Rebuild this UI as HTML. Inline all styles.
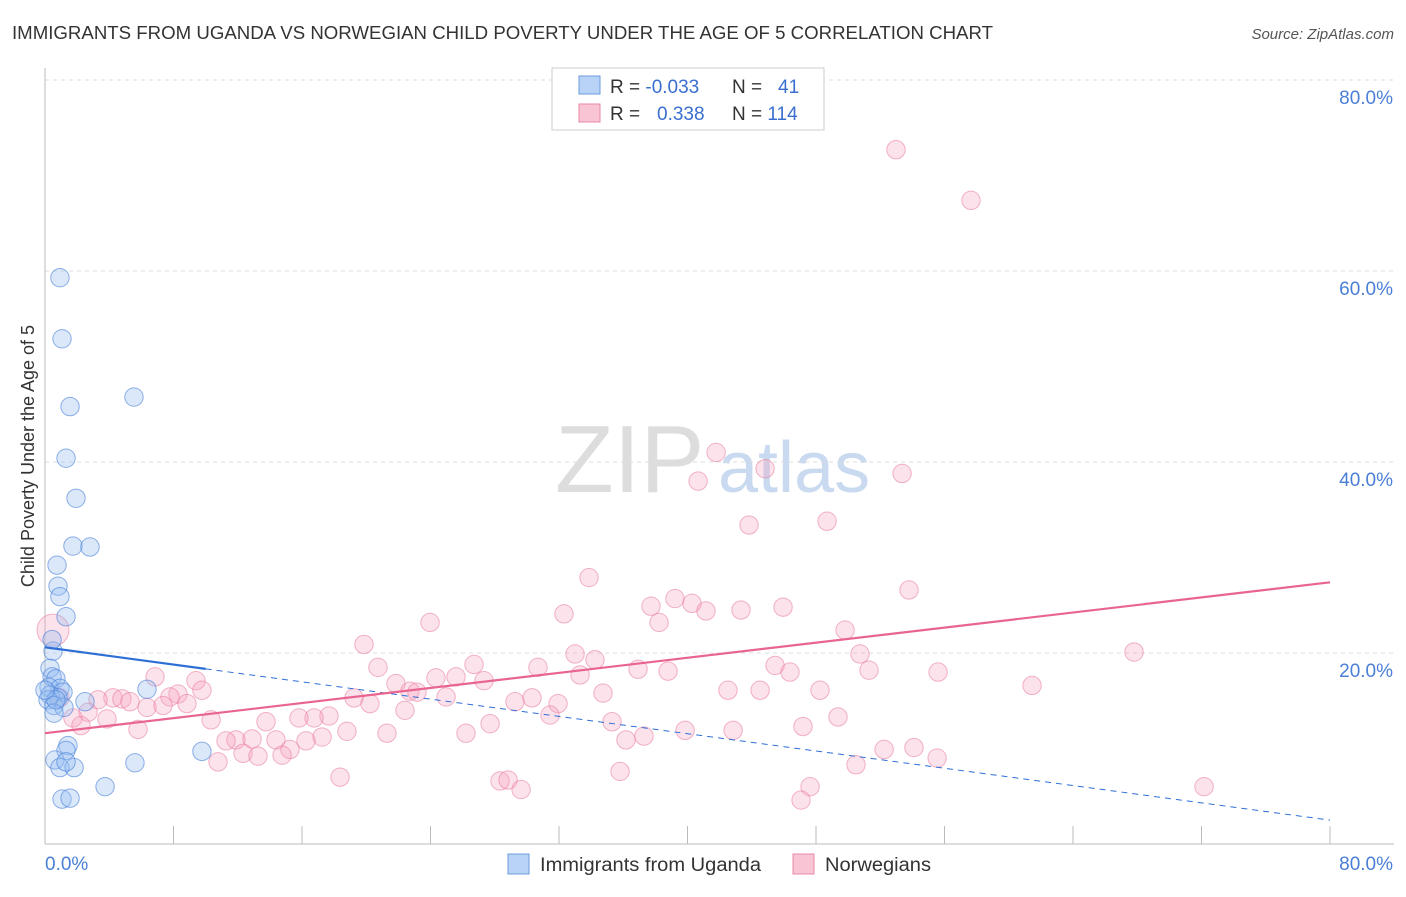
<!DOCTYPE html>
<html><head><meta charset="utf-8"><style>
body{margin:0;background:#fff;font-family:"Liberation Sans",sans-serif;}
svg text{font-family:"Liberation Sans",sans-serif;}
</style></head><body>
<svg id="chart" width="1406" height="892" xmlns="http://www.w3.org/2000/svg">
<text x="12" y="39" font-size="18" fill="#333" textLength="981" lengthAdjust="spacingAndGlyphs">IMMIGRANTS FROM UGANDA VS NORWEGIAN CHILD POVERTY UNDER THE AGE OF 5 CORRELATION CHART</text>
<text x="1394" y="39" font-size="15" fill="#555" text-anchor="end" font-style="italic">Source: ZipAtlas.com</text>
<text x="34" y="456" font-size="18" fill="#333" text-anchor="middle" transform="rotate(-90 34 456)">Child Poverty Under the Age of 5</text>
<text x="555" y="492" font-size="96" fill="#ddd" font-family="Liberation Serif">ZIP</text>
<text x="718" y="492" font-size="72" fill="#c9daf0">atlas</text>
<g id="grid"></g><g id="axes"></g><g id="pts"></g><g id="lines"></g>
<g>
<rect x="552" y="68" width="272" height="62" fill="#fff" stroke="#ccc"/>
<rect x="579" y="76" width="21" height="18" fill="#b8d3f5" stroke="#6c9be0"/>
<rect x="579" y="104" width="21" height="18" fill="#f9c4d3" stroke="#e88aa8"/>
<text x="610" y="93" font-size="19" fill="#333">R = <tspan fill="#3a6fd0">-0.033</tspan></text>
<text x="732" y="93" font-size="19" fill="#333">N = <tspan fill="#3a6fd0" x="778">41</tspan></text>
<text x="610" y="120" font-size="19" fill="#333">R = <tspan fill="#3a6fd0" x="657">0.338</tspan></text>
<text x="732" y="120" font-size="19" fill="#333">N = <tspan fill="#3a6fd0">114</tspan></text>
</g>
<g>
<rect x="508" y="854" width="21" height="20" fill="#b8d3f5" stroke="#6c9be0"/>
<text x="540" y="871" font-size="19" fill="#333" textLength="221" lengthAdjust="spacingAndGlyphs">Immigrants from Uganda</text>
<rect x="793" y="854" width="21" height="20" fill="#f9c4d3" stroke="#e88aa8"/>
<text x="825" y="871" font-size="19" fill="#333" textLength="106" lengthAdjust="spacingAndGlyphs">Norwegians</text>
</g>
</svg>
<script>
const yTicks=[20,40,60,80];
const xTickLabels=["0.0%","80.0%"];
const blueX=[0.93,1.06,1.56,5.54,1.31,1.93,1.74,2.80,0.75,0.81,0.93,1.31,0.50,0.31,0.44,0.68,0.25,0.93,1.12,0.31,0.81,0.19,2.49,0.56,1.18,0.56,6.35,1.43,1.31,0.62,0.93,1.81,1.31,5.60,9.77,3.74,1.06,1.56,0.44,0.68,0];
const blueY=[59.3,52.9,45.8,46.8,40.4,36.2,31.2,31.1,29.2,27.0,25.9,23.8,20.2,18.4,17.5,17.3,16.4,16.3,15.9,15.6,15.3,15.1,14.9,14.5,14.3,13.7,16.2,10.3,9.8,8.8,8.0,8.0,8.6,8.5,9.7,6.0,4.7,4.8,21.4,15.1,16.1];
const pinkX=[52.98,57.65,41.78,44.83,40.66,53.36,43.83,48.69,33.87,53.79,39.22,37.73,40.28,41.15,43.33,45.95,32.31,38.23,23.97,49.81,19.86,0.5,33.0,50.74,67.8,34.24,45.45,51.3,55.6,26.71,20.73,30.69,33.31,36.92,38.79,46.38,24.34,25.59,27.33,21.85,61.45,42.52,44.52,48.25,34.74,6.85,9.4,9.77,8.28,7.78,8.84,4.23,4.79,5.29,3.3,6.35,7.35,19.24,20.23,22.72,23.16,24.97,30.32,29.26,31.94,22.41,17.68,16.75,15.81,2.68,1.74,3.86,2.24,5.79,10.34,13.76,31.44,35.3,49.37,18.8,21.29,17.25,27.71,26.21,39.85,42.84,47.19,11.89,11.27,12.89,14.38,16.25,36.17,37.29,15.25,12.33,13.26,14.76,10.77,52.24,54.1,55.54,50.49,18.37,28.33,28.83,29.64,35.8,47.63,47.07,72.16,0.93];
const pinkY=[72.7,67.4,41.0,39.3,38.0,38.8,33.4,33.8,27.9,26.6,25.7,24.9,25.2,24.4,24.5,24.8,24.1,23.2,23.2,22.4,20.9,22.4,19.9,19.9,20.1,19.3,18.7,18.2,18.0,18.8,18.5,18.5,17.7,18.3,18.1,18.0,17.4,17.5,17.1,16.8,16.6,16.1,16.1,16.1,15.8,17.5,17.1,16.1,15.7,15.4,14.7,15.3,15.2,14.9,15.1,14.3,14.5,15.3,14.7,16.0,15.9,15.4,15.3,14.9,14.7,14.0,13.4,13.2,13.2,13.8,13.2,13.1,12.4,12.0,13.0,12.8,13.5,12.8,13.3,11.8,11.6,11.2,12.6,11.6,11.9,11.9,12.3,10.9,10.8,11.0,10.9,10.8,10.9,11.3,9.9,9.5,9.2,9.3,8.6,9.9,10.1,9.0,8.3,7.0,6.6,6.7,5.7,7.6,6.0,4.6,6.0,15.3];
const blueTrend=[20.6,2.5];
const pinkTrend=[11.6,27.4];
const NS="http://www.w3.org/2000/svg";
const X0=45,X1=1330,Y0=844,Y80=80;
function sx(v){return X0+(X1-X0)*v/80;}
function sy(v){return Y0-(Y0-Y80)*v/80;}
function mk(tag,attrs,parent){const e=document.createElementNS(NS,tag);for(const k in attrs)e.setAttribute(k,attrs[k]);document.getElementById(parent).appendChild(e);return e;}
yTicks.forEach(t=>{
 const g=mk('line',{x1:X0,x2:1394,y1:sy(t),y2:sy(t),stroke:'#ddd','stroke-dasharray':'4,4'},'grid');
 
 
 const l=mk('text',{x:1393,y:sy(t)+24,'font-size':19,fill:'#4a7fd6','text-anchor':'end'},'grid');
 l.textContent=t.toFixed(1)+'%';
 
 
});
const ax=mk('line',{x1:X0,x2:X0,y1:68,y2:Y0,stroke:'#bbb'},'axes');


const bx=mk('line',{x1:X0,x2:1394,y1:Y0,y2:Y0,stroke:'#bbb'},'axes');


for(let i=0;i<=10;i++){
 const t=mk('line',{x1:sx(i*8),x2:sx(i*8),y1:826,y2:Y0,stroke:'#bbb'},'axes');
 
 
}
[[0,'start',45],[80,'end',1393]].forEach((d,i)=>{
 const l=mk('text',{x:d[2],y:870,'font-size':19,fill:'#4a7fd6','text-anchor':d[1]},'axes');
 l.textContent=xTickLabels[i];
 
 
});
pinkX.forEach((x,i)=>{
 const c=mk('circle',{cx:sx(x),cy:sy(pinkY[i]),r:i==21?16:9.2,fill:'rgba(246,160,188,0.3)',stroke:'rgba(232,120,155,0.55)','stroke-width':1},'pts');
 
 
});
blueX.forEach((x,i)=>{
 const c=mk('circle',{cx:sx(x),cy:sy(blueY[i]),r:9.2,fill:'rgba(150,190,240,0.35)',stroke:'rgba(70,125,215,0.6)','stroke-width':1},'pts');
 
 
});
const bxEnd=10;
const byEnd=blueTrend[0]+(blueTrend[1]-blueTrend[0])*bxEnd/80;
const b1=mk('line',{x1:sx(0),y1:sy(blueTrend[0]),x2:sx(bxEnd),y2:sy(byEnd),stroke:'#2e6fd6','stroke-width':2.2},'lines');


const b2=mk('line',{x1:sx(bxEnd),y1:sy(byEnd),x2:sx(80),y2:sy(blueTrend[1]),stroke:'#2e6fd6','stroke-width':1,'stroke-dasharray':'6,5'},'lines');


const p1=mk('line',{x1:sx(0),y1:sy(pinkTrend[0]),x2:sx(80),y2:sy(pinkTrend[1]),stroke:'#e8658f','stroke-width':2.2},'lines');


</script>
</body></html>
